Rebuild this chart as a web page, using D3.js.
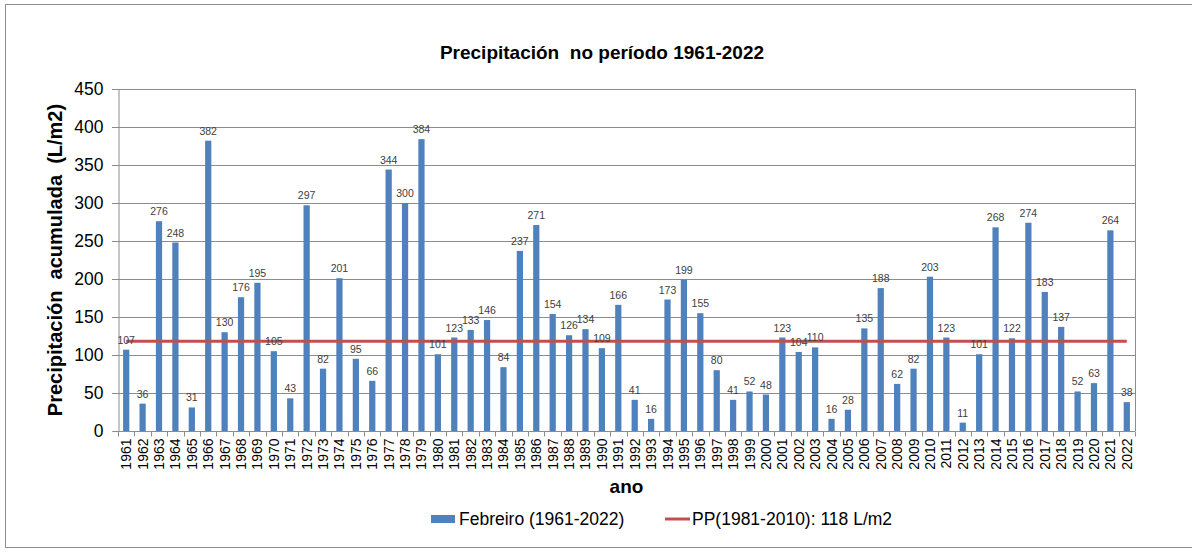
<!DOCTYPE html>
<html>
<head>
<meta charset="utf-8">
<script src="https://cdn.jsdelivr.net/npm/d3@7"></script>
<style>
  body { margin: 0; background: #fff; }
  text { font-family: "Liberation Sans", Arial, sans-serif; }
</style>
</head>
<body>
<div id="chart"></div>
<script>
const years = d3.range(1961, 2023).map(String);
const febreiro = [107, 36, 276, 248, 31, 382, 130, 176, 195, 105,
  43, 297, 82, 201, 95, 66, 344, 300, 384, 101,
  123, 133, 146, 84, 237, 271, 154, 126, 134, 109,
  166, 41, 16, 173, 199, 155, 80, 41, 52, 48,
  123, 104, 110, 16, 28, 135, 188, 62, 82, 203,
  123, 11, 101, 268, 122, 274, 183, 137, 52, 63,
  264, 38];
const normalValue = 118;
const yTicks = [0, 50, 100, 150, 200, 250, 300, 350, 400, 450];

const width = 1192, height = 553;
const margin = { top: 89, right: 57, bottom: 122, left: 118 };

const svg = d3.select("#chart").append("svg")
  .attr("width", width)
  .attr("height", height);

// outer chart border
svg.append("rect")
  .attr("x", 5.5).attr("y", 4.5)
  .attr("width", width + 10).attr("height", 543)
  .attr("fill", "none")
  .attr("stroke", "#8c8c8c");

const x = d3.scaleBand()
  .domain(years)
  .range([margin.left, width - margin.right])
  .paddingInner(0.62)
  .paddingOuter(0.31);

const y = d3.scaleLinear()
  .domain([0, 450])
  .range([height - margin.bottom, margin.top]);

// grid
svg.append("g")
  .selectAll("line")
  .data(yTicks.slice(1))
  .join("line")
    .attr("x1", margin.left - 6)
    .attr("x2", width - margin.right)
    .attr("y1", d => Math.round(y(d)) + 0.5)
    .attr("y2", d => Math.round(y(d)) + 0.5)
    .attr("stroke", "#8c8c8c")
    .attr("stroke-width", 1);

// right border of plot area
svg.append("line")
  .attr("x1", width - margin.right + 0.5).attr("x2", width - margin.right + 0.5)
  .attr("y1", y(450)).attr("y2", y(0))
  .attr("stroke", "#8c8c8c");

// y axis
const yAxis = svg.append("g")
  .attr("transform", `translate(${margin.left + 0.5},0)`)
  .call(d3.axisLeft(y).tickValues(yTicks).tickSize(6).tickPadding(9));
yAxis.select(".domain").attr("stroke", "#8c8c8c");
yAxis.selectAll(".tick line").attr("stroke", "#8c8c8c");
yAxis.selectAll(".tick text")
  .attr("font-size", 17.5)
  .attr("font-family", "Liberation Sans, Arial, sans-serif")
  .attr("fill", "#000");

// bars
svg.append("g")
  .selectAll("rect")
  .data(febreiro)
  .join("rect")
    .attr("x", (d, i) => x(years[i]))
    .attr("y", d => y(d))
    .attr("width", x.bandwidth())
    .attr("height", d => y(0) - y(d))
    .attr("fill", "#4f81bd");

// normal line
const line = d3.line()
  .x(d => x(d) + x.bandwidth() / 2)
  .y(() => y(normalValue));
svg.append("path")
  .datum([years[0], years[years.length - 1]])
  .attr("d", line)
  .attr("fill", "none")
  .attr("stroke", "#c0504d")
  .attr("stroke-width", 3);

// value labels
svg.append("g")
  .selectAll("text")
  .data(febreiro)
  .join("text")
    .attr("x", (d, i) => x(years[i]) + x.bandwidth() / 2)
    .attr("y", d => y(d) - 6)
    .attr("text-anchor", "middle")
    .attr("font-size", 10.5)
    .attr("font-family", "Open Sans, sans-serif")
    .attr("fill", "#404040")
    .text(d => d);

// x axis
const step = x.step();
const xAxis = svg.append("g")
  .attr("transform", `translate(0,${y(0) + 0.5})`);
xAxis.append("line")
  .attr("x1", margin.left).attr("x2", width - margin.right)
  .attr("stroke", "#8c8c8c");
xAxis.selectAll("line.tick")
  .data(d3.range(years.length + 1))
  .join("line")
    .attr("class", "tick")
    .attr("x1", i => Math.round(margin.left + i * step) + 0.5)
    .attr("x2", i => Math.round(margin.left + i * step) + 0.5)
    .attr("y1", 0).attr("y2", 5)
    .attr("stroke", "#8c8c8c");
xAxis.selectAll("text")
  .data(years)
  .join("text")
    .attr("transform", d => `translate(${x(d) + x.bandwidth() / 2 + 5},7) rotate(-90)`)
    .attr("text-anchor", "end")
    .attr("font-size", 14)
    .attr("fill", "#000")
    .text(d => d);

// titles
svg.append("text")
  .attr("x", 602).attr("y", 59)
  .attr("text-anchor", "middle")
  .attr("font-size", 19)
  .attr("font-weight", "bold")
  .attr("xml:space", "preserve")
  .text("Precipitación  no período 1961-2022");

svg.append("text")
  .attr("transform", `translate(62,${(y(0) + y(450)) / 2}) rotate(-90)`)
  .attr("text-anchor", "middle")
  .attr("font-size", 20)
  .attr("font-weight", "bold")
  .attr("xml:space", "preserve")
  .text("Precipitación  acumulada  (L/m2)");

svg.append("text")
  .attr("x", (margin.left + width - margin.right) / 2).attr("y", 493)
  .attr("text-anchor", "middle")
  .attr("font-size", 19)
  .attr("font-weight", "bold")
  .text("ano");

// legend
const legend = svg.append("g");
legend.append("rect")
  .attr("x", 431).attr("y", 515)
  .attr("width", 24).attr("height", 8)
  .attr("fill", "#4f81bd");
legend.append("text")
  .attr("x", 459).attr("y", 525)
  .attr("font-size", 17.5)
  .text("Febreiro (1961-2022)");
legend.append("line")
  .attr("x1", 665).attr("x2", 690)
  .attr("y1", 519).attr("y2", 519)
  .attr("stroke", "#c0504d")
  .attr("stroke-width", 3);
legend.append("text")
  .attr("x", 692).attr("y", 525)
  .attr("font-size", 17.5)
  .text("PP(1981-2010): 118 L/m2");
</script>
</body>
</html>
